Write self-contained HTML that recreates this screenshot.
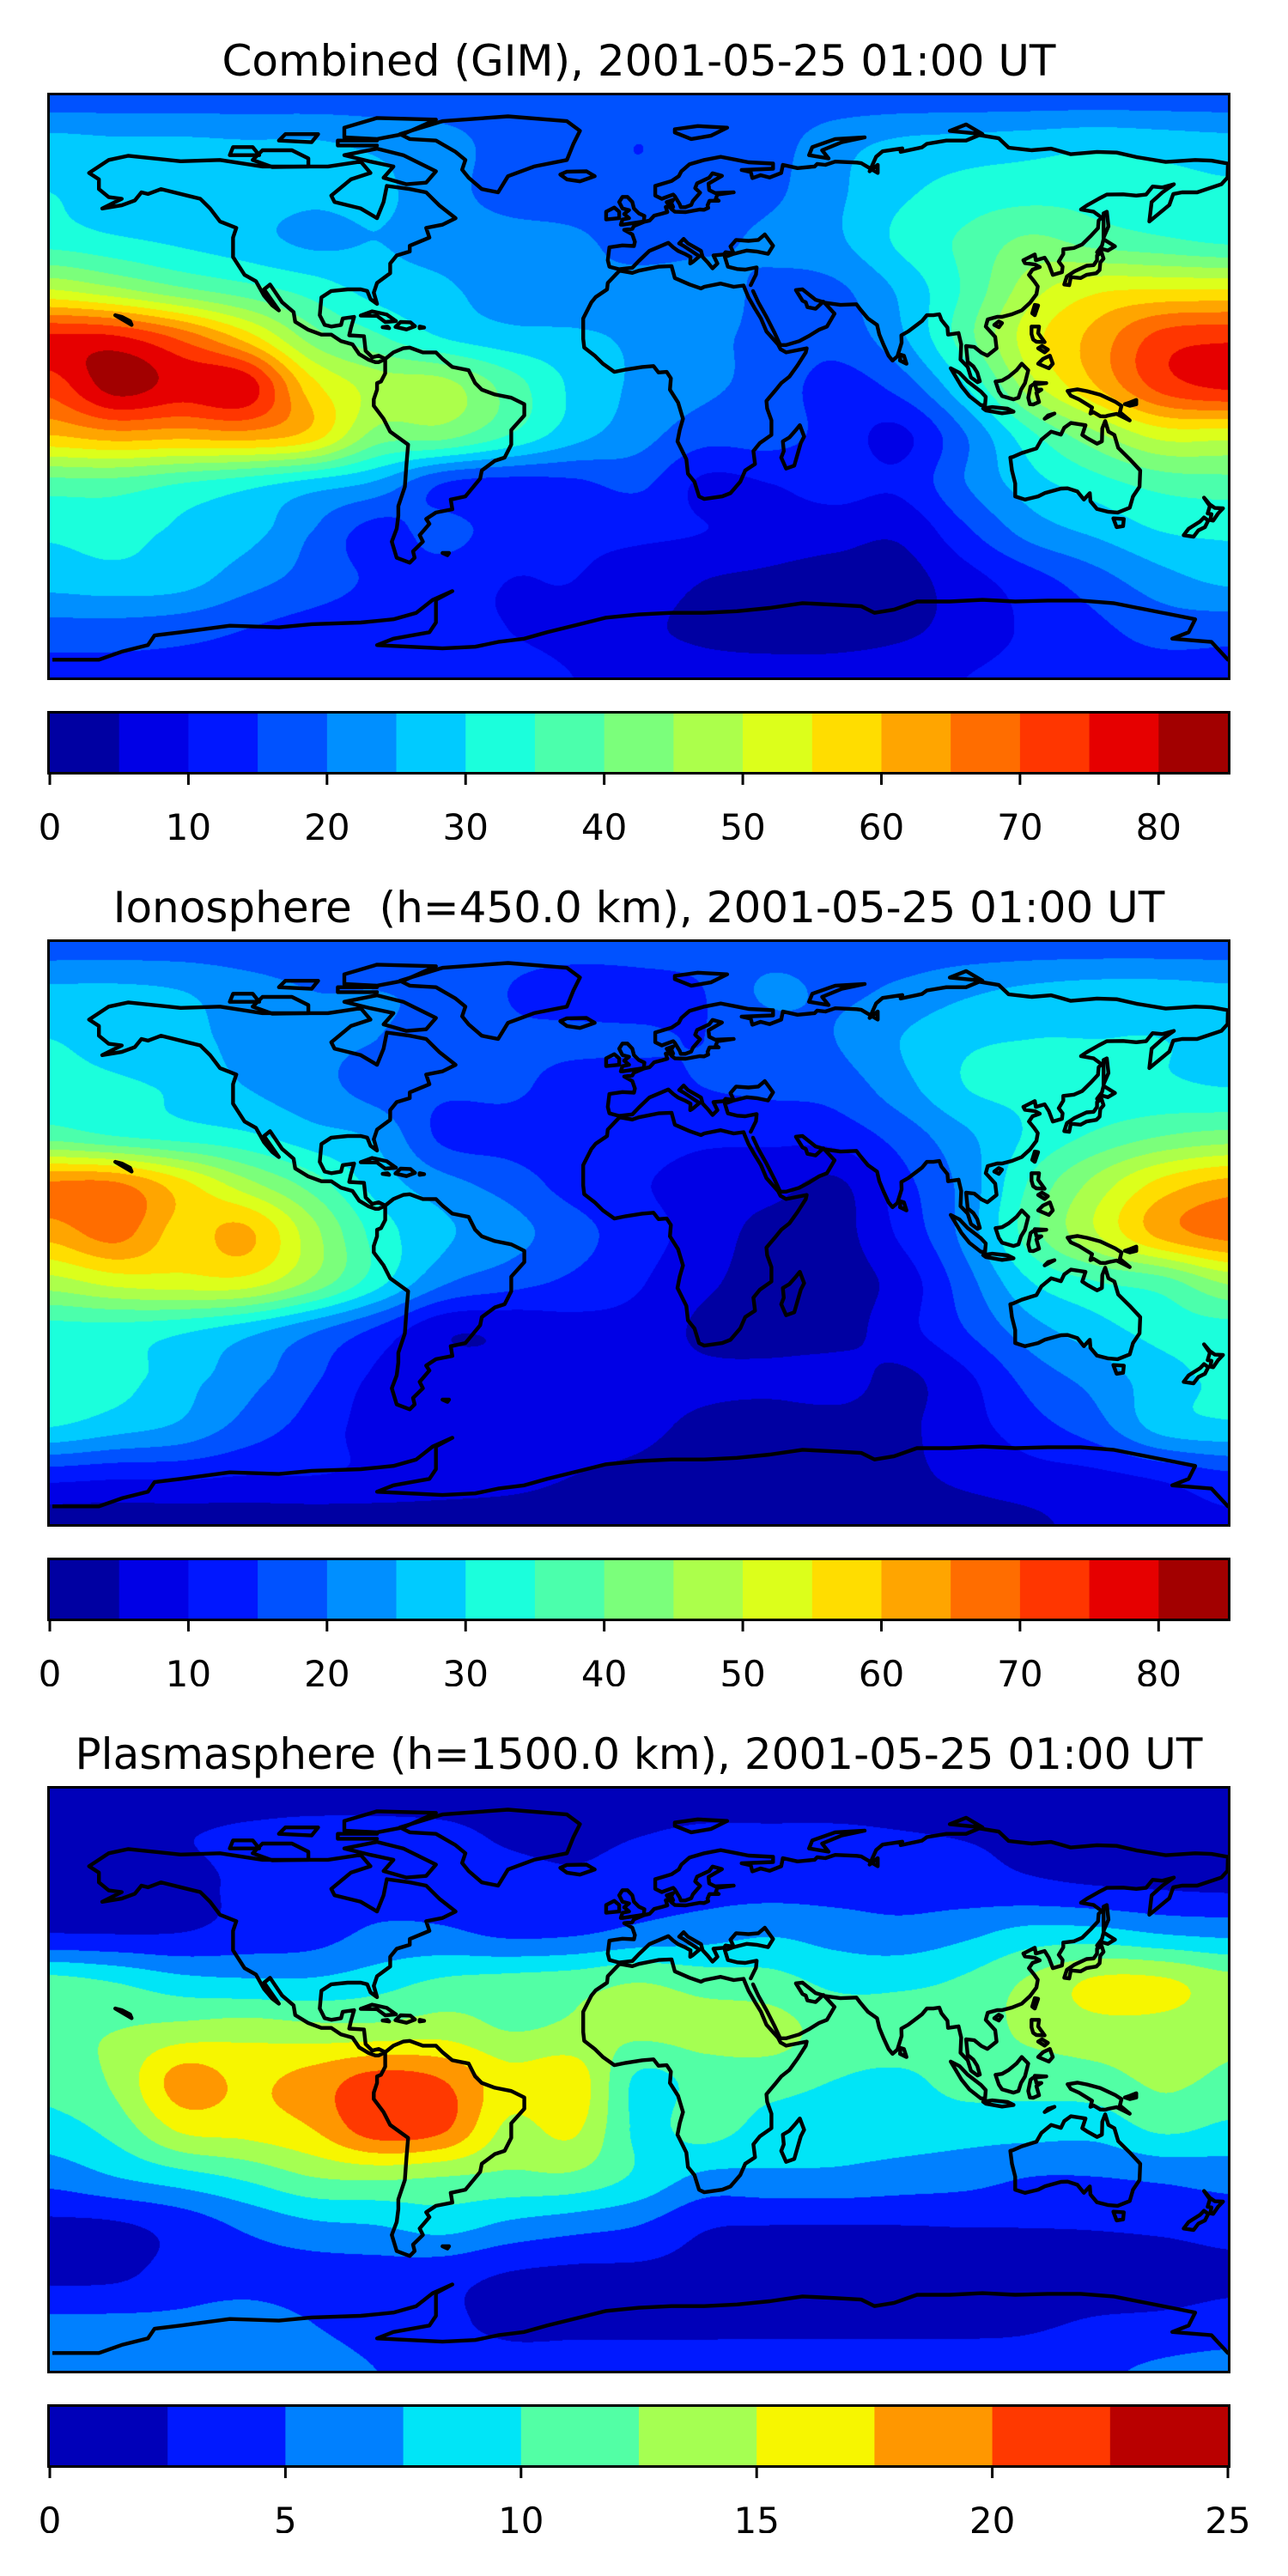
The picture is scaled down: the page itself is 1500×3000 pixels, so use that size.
<!DOCTYPE html>
<html><head><meta charset="utf-8">
<style>
html,body{margin:0;padding:0;background:#fff;}
#root{position:relative;width:1500px;height:3000px;overflow:hidden;background:#fff;font-family:"DejaVu Sans","Liberation Sans",sans-serif;}
.title{position:absolute;left:58px;width:1372px;text-align:center;font-size:50px;line-height:60px;color:#000;white-space:pre;}
canvas{position:absolute;}
svg{position:absolute;overflow:hidden;}
</style></head>
<body>
<div id="root"></div>
<script>
// ---------------- DATA ----------------
const lons = [-180,-160,-140,-120,-100,-80,-60,-40,-20,0,20,40,60,80,100,120,140,160,180];
const lats = [90,75,60,45,30,15,0,-15,-30,-45,-60,-75,-90];
const titles = ["Combined (GIM), 2001-05-25 01:00 UT","Ionosphere  (h=450.0 km), 2001-05-25 01:00 UT","Plasmasphere (h=1500.0 km), 2001-05-25 01:00 UT"];
const tecLevels = [0,5,10,15,20,25,30,35,40,45,50,55,60,65,70,75,80,85];
const tecTicks = [0,10,20,30,40,50,60,70,80];
const plasmaLevels = [0,2.5,5,7.5,10,12.5,15,17.5,20,22.5,25];
const plasmaTicks = [0,5,10,15,20,25];
const gimGrid = [
[17,17,17,17,17,17,17,17,17,17,17,17,17,17,17,17,17,17,17],
[27,26,26,25.5,25.5,24,22,18,17,15,17,18,23,26,27,28,29,28,27],
[30,27,27,27,26,26,22,18,17,16,18,19,24,29,32,33,33,32,31],
[33,31,29,27,24,25,23,22,21,18,19,21,24,31,36,41,38,36,34],
[50,46,41,37,33,28,26,22,21,22,22,19,19,26,36,48,54,55,55],
[76,76,69,58,43,36,30,27,26,24,21,19,17,24,38,53,62,72,74],
[72,82,78,78,57,48,47,38,29,24,21,18,13,17,30,48,60,72,76],
[60,63,62,63,58,43,42,35,27,22,17,17,13,9,20,34,44,52,52],
[38,38,35,32,28,24,15,13,14,16,9,10,12,11,20,28,33,37,38],
[31,32,29,27,20,13,17,12,11,11,10,8,7,6,14,22,26,30,31],
[27,28,27,22,18,14,12,10,10,8,5,4,3,3,8,13,18,23,26],
[18,18,17,15,13,12,11,10,9,6,4,3,3,4,7,11,14,17,17],
[13,13,13,13,12,12,12,11,10,8,7,7,7,8,10,12,13,13,13]];
const ionoGrid = [
[17,17,17,17,17,17,17,17,17,17,17,17,17,17,17,17,17,17,17],
[26,26,25,22,20,20,19,15,13,13.5,15,21,19,21,24,26,27,27,26],
[30,28,27,23,21,20,18,16,16,15.5,15,17,20,25,29,30,30,30,28],
[32,31,29,25,22,18,16,16,13,13.5,15,16,17,23,30,31,31,31,30],
[38,35,33,31,27,24,14,13,12,12,11,11,12,17,24,31,36,40,42],
[66,66,57,47,38,28,22,18,13,10.5,8,7,4,13,22,36,47,57,62],
[62,67,58,61,47,33,26,22,17,12,8,3,3,11,22,38,50,62,67],
[48,52,53,53,44,32,21,17,14,10.5,6,3,3,7,18,30,35,38,46],
[33,33,31,27,21,14,6,6,8,8,4,3,3,8,15,23,28,32,33],
[33,32,27,22,16,9,8,7,7,7,6,6,7,4,9,17,22,28,31],
[30,27,24,18,13,8,8,8,7,6,4,3,3,4,8,13,18,27,29],
[12,11,11,10,10,9,8,7,5,4,3,3,3,4,6,8,9,11,14],
[2,2,2,2,2,2,2,2,2,2,3,3,3,3,3,4,7,8,9]];
const plasmaGrid = [
[1.2,1.2,1.2,1.2,1.2,1.2,1.2,1.2,1.2,1.2,1.2,1.2,1.2,1.2,1.2,1.2,1.2,1.2,1.2],
[2.3,2.4,2.4,3,3.5,3.5,3.2,2.2,2,2.5,3,3,3,2.7,2.4,2,1.5,1.5,1.5],
[1.5,1.5,1.8,3,4,4,4,3.5,3,3.7,4,4,4,3.8,3.5,3,2.5,2.2,2],
[2.6,2.5,2.6,3.5,4,5.5,5.5,4.6,4.8,5.8,6.5,7.3,6.5,6,7,8.5,8.5,7.5,7],
[11,10,8.5,8,8,9,10.5,11,11.5,12.5,11.5,11,9.5,9.5,10.5,13,15.5,15.5,13.5],
[12,12.5,13.5,14,13.5,13.5,14,12.5,13,13,13.5,13.5,11.5,11.5,11.5,13,14,14,13],
[11,13,18.5,17,18.5,21,20,16,16.5,9.5,11,11,10,9.5,11,11,11.5,13,12],
[9,11,15.5,16,17.5,21.5,20.5,14.5,15.5,9.5,11,9,8.5,8.5,8.5,8.5,8.5,10.5,9.5],
[6,7.5,9,10.5,12.5,13,12.5,12,12,9.5,7,7,7,6.5,6,5,5,5.5,6],
[2,2.2,3.5,5.5,7,7.5,8.5,7,6,5,2.8,2.5,2.5,2.5,2.6,2.6,2.7,3,3.5],
[1.8,2,3.5,4,4,4,3.5,2.4,2,2,1.8,1.5,1.5,1.5,1.5,1.5,1.5,1.5,2],
[5.5,5.5,5.5,6,5,4,3,2,2,2,2,2,2,2,2,2.2,2.7,3,3.5],
[6,6,6,6,6,5,4,3.5,3.5,3.5,3.5,3.5,3.5,3.5,3.5,3.5,4.5,5.5,6]];

// coastlines [lon,lat]
const coasts = [
[[-168,66],[-162,70],[-156,71.3],[-140,69.6],[-128,70],[-115,68],[-95,68],[-85,69.5],[-82,66],[-88,64],[-94,59],[-93,57],[-85,55],[-80,52],[-78,57],[-77,62],[-70,61],[-65,60],[-61,56],[-56,52],[-60,50],[-65,49],[-64,46],[-70,43.5],[-70,41.7],[-74,40.5],[-76,38],[-76,35],[-80,32],[-81,29],[-80,25.5],[-82,27],[-83,29.5],[-85,30],[-89,30],[-94,29.5],[-97,27.5],[-97.5,22],[-96,19],[-94,18.5],[-91,19],[-90.5,21],[-87,21.5],[-88,18],[-88.5,15.8],[-84,15.5],[-83.5,11],[-81.5,9],[-79.5,9.5],[-77.5,8.5],[-79.5,7.5],[-80.5,7.5],[-82.5,8.2],[-85.5,10],[-87.5,13],[-91,14],[-94,16],[-97,16],[-101,17.5],[-105,20],[-105.5,23],[-109,26],[-112.7,31.5],[-114.5,30],[-110,23.5],[-112,25],[-114.5,28],[-117,32.5],[-120.5,34.5],[-124,40],[-124,46],[-123,49],[-128,51],[-131,55],[-134,58],[-138,59],[-146,61],[-150,59.5],[-152,60],[-154,57.5],[-158,56],[-164,55],[-158,58],[-162,58.5],[-165,61],[-165,64],[-168,66]],
[[-77.5,8.5],[-75,10.5],[-72,11.8],[-70,12],[-66,10.5],[-62,10.5],[-60,8.5],[-57,6],[-52,5],[-50,1],[-48,-1],[-44,-2.5],[-39,-3.5],[-35,-5.5],[-35,-9],[-39,-13.5],[-39,-18],[-41,-22],[-44,-23],[-48,-26],[-48.5,-28.5],[-53,-34],[-57.5,-35],[-57,-38],[-62,-39],[-65,-41],[-64,-42.5],[-67,-46],[-66,-48],[-69,-51],[-68.5,-53],[-70,-54.5],[-74,-53],[-75.5,-48],[-74,-44],[-73.5,-40],[-73.5,-37],[-71.5,-31],[-71,-24],[-70.5,-18],[-76,-14],[-78,-10],[-81,-6],[-81,-4],[-80,-1],[-80,1],[-78.8,1.5],[-77.5,4],[-77.5,7],[-77.5,8.5]],
[[-17,21],[-17,14.7],[-16.7,12],[-13.5,9.5],[-11,7],[-7.5,4.5],[-4,5.2],[1,6],[4.5,6.3],[6,4.3],[8.5,4.5],[9.8,2.5],[9.5,-1],[12,-5],[13.5,-10],[12.5,-13.5],[11.8,-17],[14.5,-22.5],[15,-27],[17,-29.5],[18.4,-34],[20,-34.8],[25.5,-34],[28,-33],[31,-29.5],[32.5,-26],[35.5,-24],[35,-20],[37,-17.5],[40.5,-15],[40.5,-10.5],[39.2,-6.8],[39,-4.5],[41.5,-1.5],[43.5,1],[46,3],[48.5,6.5],[51,10.5],[51.3,11.8],[49,11.3],[45,10.5],[43.3,11.5],[42.5,13],[39,17],[37.3,21],[35.5,24],[33.5,27.5],[32.5,29.9],[32,31.2],[29,30.8],[25,31.8],[20,30.8],[19,30.3],[15.5,31.5],[11,33.5],[10,37.2],[6,37],[0,35.8],[-2,35.1],[-5.9,35.8],[-9.5,32],[-9.7,30],[-13.2,27.6],[-14.5,26],[-17,21]],
[[34.9,29.5],[36.5,26],[39,21.5],[41.5,16.5],[43.2,12.8],[45,12.8],[49,14],[52,15.6],[55,17.5],[57.5,18.5],[59.8,22.5],[56.4,26.2],[54,24],[51.5,24.5],[51,26],[50,26.5],[48,29.8],[50,30],[54,26.8],[57.3,25.8],[61.6,25.2],[66.5,25.4],[67.5,24],[70,21],[72.8,19],[73.5,16],[74.8,12.8],[76.3,9.5],[77.5,8],[79,9.3],[80.3,13.5],[80.2,15.8],[82.3,17],[86.5,20.2],[88,22],[90,22],[91.8,22.3],[92.5,20.5],[94.3,18.2],[94.5,16],[97.7,16.5],[98.5,13],[98.3,8.3],[100.5,6],[101.5,2.8],[103.5,1.3],[104.2,1.6],[103.4,4.3],[102.2,6.2],[100.5,7.6],[100,12.5],[102.5,12.2],[104.7,10.4],[106.5,9.5],[109.3,11.8],[108.9,15.3],[106,18.5],[106.6,20.7],[109.5,21.5],[111,21.5],[114,22.3],[117,23.5],[119.5,25.8],[121.5,28.5],[121.9,30.9],[120.8,32.5],[119.2,34.5],[120.3,36.1],[122.5,36.9],[121,37.7],[118,38.1],[117.5,39],[121,40.8],[121.3,39],[124,39.8],[125.3,37.7],[126.5,34.5],[129.3,35.3],[129.5,37],[128.3,38.6],[129.7,40.9],[129.7,42.4],[133,42.8],[135.5,43.9],[138,46.4],[140.3,48.9],[140.5,51.3],[141.4,52.2],[139,54],[135.1,54.7],[137,56],[140.5,58],[143,59.3],[148,59.4],[152,59],[155,59.3],[157,61.8],[160,61.5],[163.5,62.5],[160,60],[156.7,57],[156,51],[158.3,52.9],[162.1,56.1],[163.3,59.5],[166,60],[170.6,60],[178,62.5],[179.9,64.6],[180,68.9],[175,69.8],[170,70],[161,69.4],[152,70.9],[146,72.3],[140,72.5],[132,71.8],[128.5,72.8],[126,73.5],[120,73],[113,73.8],[110,76.7],[104,77.7],[100,76],[94,76],[88,75],[86.5,73.9],[80,72.5],[80.5,73.6],[74.5,72.7],[72.5,71],[70.5,66.5],[73,68.5],[73,66],[68,69],[66.6,69.2],[60,69.5],[57,68.5],[54.5,68.8],[53.7,68],[48.5,67.5],[44,68.5],[43.5,66],[40,64.6],[37.2,65.3],[34.7,64.4],[34.2,66.3],[31.4,66.9],[41,67.3],[41,68.9],[33.5,69.3],[30,70],[25,71],[20,70],[15.5,68.7],[13,66.5],[12.2,65],[10,63.5],[5,62],[5,59],[7,58],[10.5,59.3],[11,58.8],[12.5,56.3],[12.8,55.4],[14.2,55.4],[16,56.1],[16.5,57.3],[18.7,59.9],[17.2,61.3],[17.8,62.8],[21.5,64.5],[22.5,65.9],[25.4,65.1],[21.3,62.7],[21.5,60.7],[23.3,59.8],[29,60],[24,59.3],[23.5,58],[24.4,57.4],[21.6,57.4],[21,56],[21.2,55.2],[19.9,54.6],[18.6,54.7],[14.3,53.9],[11,54],[9.9,54.9],[8.5,57],[10.5,57.7],[9.9,56.8],[10.5,55.5],[8.2,55.5],[8.7,53.9],[7,53.4],[4.7,52.8],[3.3,51.3],[1.6,50.9],[-1.5,49.6],[-2,48.7],[-4.5,48.4],[-2,47],[-1.2,44.7],[-1.5,43.4],[-5,43.6],[-9,43],[-9.5,39],[-9,37],[-6,36.2],[-2,36.7],[0,38.8],[3.2,41.9],[6,43.1],[9,44.4],[10.5,43],[12,41.9],[14,41],[15.8,40],[15.7,38],[16.5,38.5],[18.5,40.2],[16,41.9],[13.6,43.5],[12.3,44.2],[13.7,45.6],[15,44.2],[19,41.9],[19.5,40],[21,38.4],[22.5,36.5],[24,38],[22.8,40.5],[26,40.8],[26.5,41.5],[29,41.1],[28,43.3],[29.7,45.3],[33.5,45],[36.5,45.3],[38.5,47],[41,43.5],[39.5,41],[36,41.7],[33,42],[29,41],[26.3,40],[27.2,37],[30,36.3],[32.5,36.1],[36,36.8],[35.8,34.6],[35,33],[34.2,31.3]],
[[-5,50],[1.5,51],[1.7,52.7],[0,53.5],[-1.5,55],[-2,57],[-3.5,58.6],[-5,58.6],[-6,57],[-5,55],[-3,54.5],[-4.5,53.3],[-3,52],[-5,51.6],[-5.5,50],[-5,50]],
[[-6,52],[-6,54],[-7.5,55.3],[-10,54],[-10,51.6],[-6,52]],
[[-22,64],[-24,65.5],[-22,66.4],[-16,66.5],[-13.5,65],[-18,63.4],[-22,64]],
[[-73,78],[-60,82],[-40,83.5],[-22,82],[-18,79],[-20,75],[-22,70],[-32,68],[-40,65],[-43,60],[-48,61],[-52,64.5],[-54,67],[-53,70],[-56,72.5],[-62,76],[-70,76.5],[-73,78]],
[[-62,66.5],[-65,63],[-71,62.5],[-78,64.5],[-75,68],[-82,69.5],[-90,71.5],[-80,73.5],[-72,71.5],[-67,69],[-62,66.5]],
[[-118,70],[-112,67.8],[-101,68],[-101,70.5],[-106,73],[-115,73],[-118,70]],
[[-80,76.5],[-90,77],[-90,80],[-80,83],[-62,82.5],[-72,78],[-80,76.5]],
[[-125,71.5],[-116,71.5],[-118,74],[-124,74],[-125,71.5]],
[[-80,74.5],[-92,74.5],[-92,76],[-80,76]],
[[-110,76],[-100,75.5],[-98,78],[-108,78],[-110,76]],
[[11,78.5],[16,76.5],[22,77.5],[27,80],[18,80.5],[11,79.5],[11,78.5]],
[[52,71.5],[58,70.5],[56,73],[62,75.5],[69,77],[60,76.5],[53,74],[52,71.5]],
[[95,79],[105,78],[100,81],[95,79]],
[[130,31.5],[131.5,31.3],[132,33.8],[135,33.5],[136.8,34.5],[139.8,35],[140.8,36],[141,38.3],[142,39.5],[141.4,41.4],[140,40.5],[140,39],[139,37.5],[136.8,37.3],[133,35.5],[130.8,34],[130,31.5]],
[[140,41.5],[141.5,42.5],[143.3,42],[145.5,43.3],[142,45.5],[141.5,43.5],[140,41.5]],
[[142,46],[143.5,49.5],[143,54],[142,53.5],[142,46]],
[[120.2,22.6],[121,22],[122,25],[121,25.2],[120.2,22.6]],
[[108.6,19],[110,18.3],[111,19.6],[110,20.1],[108.6,19]],
[[120,18.5],[122.3,18.5],[122,16.5],[124,13.7],[121.5,13.8],[120.5,14.5],[120,16.2],[120,18.5]],
[[122,7],[125.3,5.6],[126.5,7],[125.6,9.5],[123.5,8.5],[122,7]],
[[122,11.8],[124,10.5],[125,11.4],[123.2,12.5],[122,11.8]],
[[79.8,8],[81.8,7],[81,9.5],[80,9.8],[79.8,8]],
[[95.3,5.6],[98,4.2],[100.5,1.5],[104.5,-1.6],[106,-3.2],[105.8,-5.8],[104.5,-5.8],[101,-3],[98.6,0],[95.3,5.6]],
[[105.2,-6.8],[108,-6.4],[112.7,-6.9],[114.5,-7.8],[111,-8.3],[106,-7.4],[105.2,-6.8]],
[[109,1.5],[110,-1.5],[111,-3],[114.5,-4],[116,-3.5],[116.8,-1],[118,1],[119,5],[117,7],[115.4,5],[113,3],[111,1.8],[109,1.5]],
[[119.5,-5.5],[119,-3.5],[119.7,0],[120.5,0.6],[124.5,1],[121,1.2],[121.5,-1],[123,-1],[121.5,-2],[122.3,-4.8],[120.5,-5.6],[119.5,-5.5]],
[[131,-1.4],[134,-0.9],[137,-1.5],[141,-2.6],[145.5,-4.7],[147.5,-6],[147,-8],[150,-10.5],[146,-8.5],[143.5,-9],[142.5,-9.3],[141,-9.2],[139,-8],[138,-8.4],[138.5,-6.5],[134.5,-4],[132,-2.9],[131,-1.4]],
[[124,-10],[127,-8.4],[125,-9],[124,-10]],
[[150,-5],[152,-4.2],[152,-5.5],[150,-6],[148.5,-5.5],[150,-5]],
[[113.5,-22],[114,-26],[115,-30],[115,-34],[118,-35],[122,-34],[124,-33],[129,-31.6],[131,-31.5],[134,-32.5],[136,-35],[137.8,-33],[138,-35.5],[140,-37.9],[143.5,-38.8],[146.3,-39],[150,-37.5],[151,-34],[153,-31],[153.2,-26],[150,-22.5],[146.5,-19],[145.3,-15],[143.5,-14],[142.5,-10.7],[141.6,-13],[141.5,-17],[140,-17.7],[137,-16],[135.5,-15],[136.5,-12],[132,-11.3],[130,-12.8],[129,-14.9],[126,-14],[123,-16.5],[121.5,-19.2],[117,-20.6],[114.3,-21.8],[113.5,-22]],
[[145,-40.8],[148.2,-41],[148,-43.2],[146,-43.5],[145,-40.8]],
[[172.7,-34.4],[174.5,-36.5],[176,-37.6],[178.5,-37.7],[177,-39.3],[175.5,-41.5],[174.6,-41.3],[175,-39.5],[173.8,-39.3],[174.5,-37],[172.7,-34.4]],
[[172.7,-40.5],[174,-41.5],[173,-43.5],[171,-44.5],[169.5,-46.5],[166.5,-46],[168,-44],[171.5,-41.8],[172.7,-40.5]],
[[49.2,-12],[50.5,-15.5],[49.5,-17.5],[47.5,-24.5],[45,-25.4],[43.5,-22],[44.3,-20],[44,-17],[46,-15.8],[48,-13.5],[49.2,-12]],
[[-85,21.9],[-81.5,23.2],[-77,22.2],[-74.2,20.2],[-77.5,19.9],[-80,21.8],[-85,21.9]],
[[-74.4,18.4],[-71,17.6],[-68.4,18.6],[-69.8,19.8],[-72.8,19.9],[-74.4,18.4]],
[[-78.3,18.3],[-76.3,18],[-76.8,18.5],[-78.3,18.3]],
[[-67,18],[-65.6,18.2],[-67,18.5],[-67,18]],
[[-160,22],[-155,19],[-155.5,20.2],[-158,21.5],[-160,22]],
[[-60,-51.5],[-58,-51.5],[-58.5,-52.2],[-60,-51.5]],
[[-180,-84.5],[-165,-84.5],[-158,-82],[-150,-80],[-148,-77],[-140,-76],[-125,-74],[-110,-74.5],[-100,-73.5],[-85,-73],[-75,-72],[-68,-70],[-63,-66],[-57,-63.3],[-62,-66],[-62,-69],[-62,-73],[-64,-76],[-75,-78],[-80,-80],[-60,-81],[-50,-80.5],[-43,-79],[-35,-78],[-28,-76],[-18,-73.5],[-10,-71.5],[0,-70.5],[10,-70],[20,-70],[30,-69.5],[40,-68.5],[50,-67],[60,-67.5],[68,-68],[72,-70],[78,-69],[85,-66.5],[95,-66.5],[105,-66],[115,-66.5],[125,-66.2],[135,-66.2],[145,-67],[155,-69],[165,-71],[170,-72],[168,-76],[163,-78],[175,-79],[180,-84.5]]
];

// ---------------- LAYOUT ----------------
const AX_L = 58, AX_W = 1372, AX_H = 678;
const panels = [
 {grid: gimGrid, levels: tecLevels, ticks: tecTicks, top: 0},
 {grid: ionoGrid, levels: tecLevels, ticks: tecTicks, top: 986},
 {grid: plasmaGrid, levels: plasmaLevels, ticks: plasmaTicks, top: 1972}
];
const NS = "http://www.w3.org/2000/svg";
const root = document.getElementById('root');

function jet(x){
  let r,g,b;
  if(x<0.35) r=0; else if(x<0.66) r=(x-0.35)/0.31; else if(x<0.89) r=1; else r=1-(x-0.89)/0.11*0.5;
  if(x<0.125) g=0; else if(x<0.375) g=(x-0.125)/0.25; else if(x<0.64) g=1; else if(x<0.91) g=1-(x-0.64)/0.27; else g=0;
  if(x<0.11) b=0.5+x/0.11*0.5; else if(x<0.34) b=1; else if(x<0.65) b=1-(x-0.34)/0.31; else b=0;
  return [Math.round(r*255),Math.round(g*255),Math.round(b*255)];
}
function bandColors(levels){
  const n = levels.length-1, out=[];
  for(let i=0;i<n;i++) out.push(jet((i+0.5)/n));
  return out;
}
function cr(p0,p1,p2,p3,t){
  return 0.5*((2*p1)+(-p0+p2)*t+(2*p0-5*p1+4*p2-p3)*t*t+(-p0+3*p1-3*p2+p3)*t*t*t);
}
function sampleGrid(grid, lon, lat){
  const nc = lons.length, nr = lats.length;
  const fx = (lon-lons[0])/(lons[1]-lons[0]);
  const fy = (lats[0]-lat)/(lats[0]-lats[1]);
  const ix = Math.min(nc-2, Math.max(0, Math.floor(fx))), iy = Math.min(nr-2, Math.max(0, Math.floor(fy)));
  const tx = fx-ix, ty = fy-iy;
  const g=(r,c)=>grid[Math.max(0,Math.min(nr-1,r))][Math.max(0,Math.min(nc-1,c))];
  const rows=[];
  for(let k=-1;k<=2;k++){
    rows.push(cr(g(iy+k,ix-1),g(iy+k,ix),g(iy+k,ix+1),g(iy+k,ix+2),tx));
  }
  return cr(rows[0],rows[1],rows[2],rows[3],ty);
}
const xOf = lon => (lon+180)/360*AX_W;
const yOf = lat => (90-lat)/180*AX_H;

panels.forEach((p, pi) => {
  const axTop = 111 + p.top;
  const t = document.createElement('div');
  t.className='title';
  t.style.top = (41 + p.top) + 'px';
  t.textContent = titles[pi];
  
  
  root.appendChild(t);

  const cv = document.createElement('canvas');
  cv.width = AX_W; cv.height = AX_H;
  cv.style.left = AX_L+'px'; cv.style.top = axTop+'px';
  
  
  root.appendChild(cv);
  const ctx = cv.getContext('2d');
  const img = ctx.createImageData(AX_W, AX_H);
  const cols = bandColors(p.levels);
  const step = p.levels[1]-p.levels[0], n = cols.length;
  for(let y=0;y<AX_H;y++){
    const lat = 90 - (y+0.5)/AX_H*180;
    for(let x=0;x<AX_W;x++){
      const lon = -180 + (x+0.5)/AX_W*360;
      const v = sampleGrid(p.grid, lon, lat);
      let b = Math.floor((v-p.levels[0])/step); if(b<0)b=0; if(b>n-1)b=n-1;
      const c = cols[b], o=(y*AX_W+x)*4;
      img.data[o]=c[0]; img.data[o+1]=c[1]; img.data[o+2]=c[2]; img.data[o+3]=255;
    }
  }
  ctx.putImageData(img,0,0);

  const svg = document.createElementNS(NS,'svg');
  svg.setAttribute('width', AX_W+6); svg.setAttribute('height', AX_H+6);
  svg.style.left=(AX_L-3)+'px'; svg.style.top=(axTop-3)+'px';
  
  
  const clip = document.createElementNS(NS,'clipPath'); clip.setAttribute('id','clip'+pi);
  const cr0 = document.createElementNS(NS,'rect'); cr0.setAttribute('x',3); cr0.setAttribute('y',3); cr0.setAttribute('width',AX_W); cr0.setAttribute('height',AX_H);
  clip.appendChild(cr0); svg.appendChild(clip);
  const gC = document.createElementNS(NS,'g'); gC.setAttribute('clip-path','url(#clip'+pi+')');
  gC.setAttribute('transform','translate(3,3)');
  coasts.forEach((poly, ci) => {
    const path = document.createElementNS(NS,'path');
    path.setAttribute('d', poly.map((q,i)=>(i?'L':'M')+xOf(q[0]).toFixed(1)+' '+yOf(q[1]).toFixed(1)).join(''));
    path.setAttribute('fill','none'); path.setAttribute('stroke','#000'); path.setAttribute('stroke-width','4.4');
    path.setAttribute('stroke-linejoin','round'); path.setAttribute('stroke-linecap','round');
    
    
    gC.appendChild(path);
  });
  svg.appendChild(gC);
  const fr = document.createElementNS(NS,'rect');
  fr.setAttribute('x',1.5); fr.setAttribute('y',1.5); fr.setAttribute('width',AX_W+3); fr.setAttribute('height',AX_H+3);
  fr.setAttribute('fill','none'); fr.setAttribute('stroke','#000'); fr.setAttribute('stroke-width','3');
  
  
  svg.appendChild(fr);
  root.appendChild(svg);

  const cbTop = 831 + p.top, cbH = 68;
  const cb = document.createElementNS(NS,'svg');
  cb.setAttribute('width', AX_W+60); cb.setAttribute('height', 150);
  cb.style.left=(AX_L-30)+'px'; cb.style.top=(cbTop-3)+'px';
  
  
  const lo = p.levels[0], hi = p.levels[p.levels.length-1];
  const cx = v => 30 + (v-lo)/(hi-lo)*AX_W;
  cols.forEach((c, i) => {
    const r = document.createElementNS(NS,'rect');
    r.setAttribute('x', cx(p.levels[i])); r.setAttribute('y', 3);
    r.setAttribute('width', cx(p.levels[i+1])-cx(p.levels[i])+0.5); r.setAttribute('height', cbH);
    r.setAttribute('fill', 'rgb('+c.join(',')+')');
    
    
    cb.appendChild(r);
  });
  const cf = document.createElementNS(NS,'rect');
  cf.setAttribute('x',28.5); cf.setAttribute('y',1.5); cf.setAttribute('width',AX_W+3); cf.setAttribute('height',cbH+3);
  cf.setAttribute('fill','none'); cf.setAttribute('stroke','#000'); cf.setAttribute('stroke-width','3');
  
  
  cb.appendChild(cf);
  p.ticks.forEach(v => {
    const ln = document.createElementNS(NS,'line');
    ln.setAttribute('x1', cx(v)); ln.setAttribute('x2', cx(v));
    ln.setAttribute('y1', cbH+3); ln.setAttribute('y2', cbH+18);
    ln.setAttribute('stroke','#000'); ln.setAttribute('stroke-width','3');
    
    
    cb.appendChild(ln);
    const tx = document.createElementNS(NS,'text');
    tx.setAttribute('x', cx(v)); tx.setAttribute('y', cbH+3+79);
    tx.setAttribute('text-anchor','middle');
    tx.setAttribute('font-family','DejaVu Sans, Liberation Sans, sans-serif');
    tx.setAttribute('font-size','42');
    tx.textContent = String(v);
    
    
    cb.appendChild(tx);
  });
  root.appendChild(cb);
});
</script>
</body></html>
